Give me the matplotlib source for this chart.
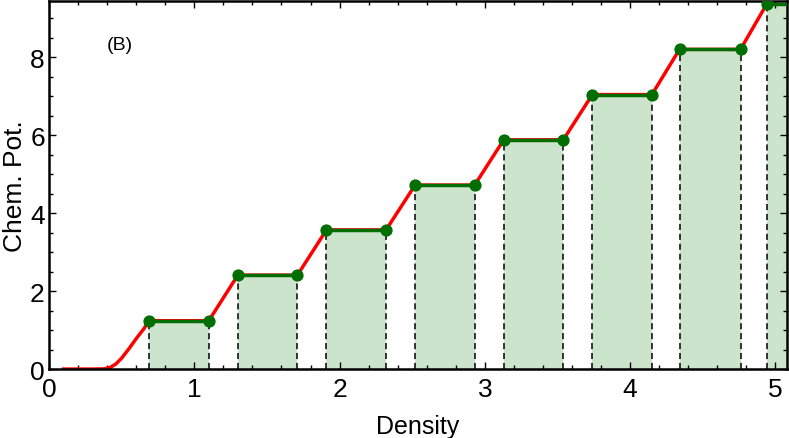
import matplotlib.pyplot as plt
from matplotlib.ticker import MultipleLocator

plt.rcParams['font.family'] = ['Liberation Sans', 'DejaVu Sans']

# plateau edges (density) and heights (chem. pot.)
plateau_left = [0.69, 1.30, 1.91, 2.52, 3.13, 3.74, 4.34, 4.94]
plateau_right = [1.10, 1.71, 2.32, 2.93, 3.54, 4.15, 4.76, 5.35]
plateau_mu = [1.24, 2.41, 3.57, 4.72, 5.88, 7.04, 8.20, 9.36]

# onset of the red curve below the first plateau
onset_x = [0.10, 0.30, 0.38, 0.42, 0.46, 0.50, 0.55, 0.60, 0.65, 0.69]
onset_mu = [0.0, 0.0, 0.005, 0.04, 0.13, 0.28, 0.52, 0.78, 1.02, 1.24]

fig = plt.figure(figsize=(7.89, 4.39), dpi=100)
ax = fig.add_axes([0.0621, 0.157, 0.9354, 0.8384])

green = '#006e00'
fill_c = '#cce3cc'

# red curve: onset, then straight rises between plateaus
rx = list(onset_x)
ry = list(onset_mu)
for i in range(len(plateau_left) - 1):
    rx += [plateau_right[i], plateau_left[i + 1]]
    ry += [plateau_mu[i], plateau_mu[i + 1]]
ax.plot(rx, ry, color='red', lw=2.5, zorder=2)

for xl, xr, mu in zip(plateau_left, plateau_right, plateau_mu):
    ax.fill_between([xl, xr], 0, mu, color=fill_c, lw=0, zorder=1)
    ax.plot([xl, xl], [0, mu], color='black', ls=(0, (4, 2.5)), lw=1.1, zorder=2)
    ax.plot([xr, xr], [0, mu], color='black', ls=(0, (4, 2.5)), lw=1.1, zorder=2)
    ax.plot([xl, xr], [mu, mu], color=green, lw=2.5, zorder=3)
    ax.plot([xl, xr], [mu, mu], 'o', color=green, ms=7.8, zorder=4)

ax.text(0.49, 8.32, '(B)', fontsize=14, ha='center', va='center')

ax.set_xlim(0, 5.08)
ax.set_ylim(0, 9.44)
ax.set_xlabel('Density', fontsize=18, labelpad=9)
ax.set_ylabel('Chem. Pot.', fontsize=19, labelpad=2)
ax.xaxis.set_major_locator(MultipleLocator(1))
ax.xaxis.set_minor_locator(MultipleLocator(0.2))
ax.yaxis.set_major_locator(MultipleLocator(2))
ax.yaxis.set_minor_locator(MultipleLocator(0.5))
ax.tick_params(which='both', direction='in', top=True, right=True, labelsize=19, width=1)
ax.tick_params(axis='x', which='major', length=5, pad=6)
ax.tick_params(axis='y', which='major', length=5, pad=3)
ax.tick_params(which='minor', length=3)
for s in ax.spines.values():
    s.set_linewidth(1.8)

fig.savefig('out.png', dpi=100)
